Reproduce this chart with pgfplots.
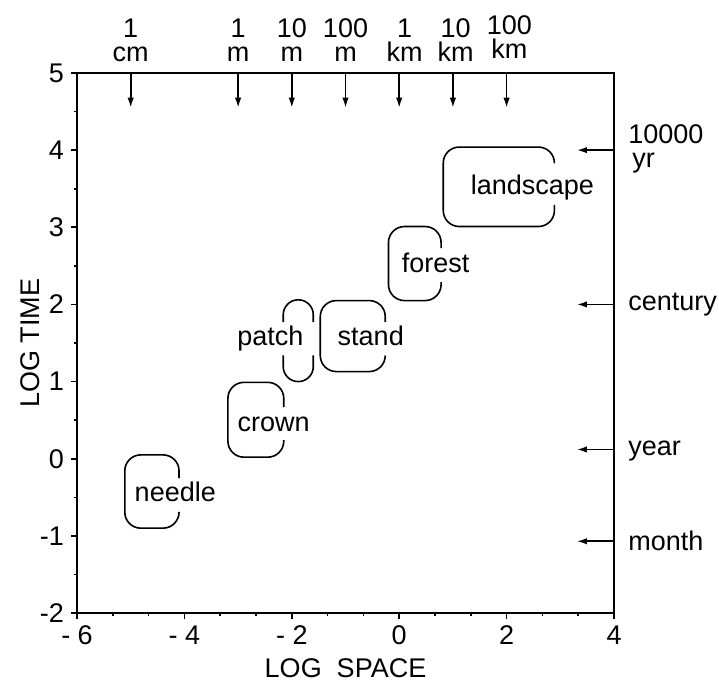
\documentclass[border=0pt]{standalone}
\usepackage{fontspec}
\setmainfont{Liberation Sans}
\usepackage{pgfplots}
\pgfplotsset{compat=1.18}
\usetikzlibrary{arrows.meta}
\tikzset{
  box/.style={black, line width=0.8pt, rounded corners=8pt, mark=none},
  arr/.style={black, line width=0.8pt, mark=none, -{Latex[length=5pt,width=3.2pt]}},
  toplab/.style={anchor=south, inner sep=0pt, yshift=5.6pt, align=center, font=\fontsize{13.5}{12}\selectfont},
  rightlab/.style={anchor=west, inner sep=0pt, xshift=7pt, font=\fontsize{13.5}{15}\selectfont},
}
\begin{document}
\begin{tikzpicture}
\begin{axis}[
  scale only axis, width=268.5pt, height=270pt,
  xmin=-6, xmax=4, ymin=-2, ymax=5,
  xtick={-6,-4,-2,0,2,4}, xticklabels={- 6,- 4,- 2,0,2,4},
  ytick={-2,-1,0,1,2,3,4,5}, yticklabels={-2,-1,0,1,2,3,4,5},
  minor x tick num=2, minor y tick num=1,
  tick pos=left, tick align=outside,
  major tick length=3pt, minor tick length=1.5pt,
  every tick/.style={black, line width=0.8pt},
  axis line style={line width=1pt},
  font=\fontsize{13.5}{15}\selectfont,
  xlabel={LOG\ \ SPACE}, ylabel={LOG TIME},
  x label style={at={(axis description cs:0.5,-0.102)},anchor=center},
  y label style={at={(axis description cs:-0.0875,0.5)},anchor=center},
  clip=false,
]
% page frame (no ink): matches the reference margins
\path (axis description cs:-0.1434,-0.1352) rectangle (axis description cs:1.1955,1.1352);
% boxes
\addplot[box] coordinates {(-4.10,-0.69) (-4.10,-0.90) (-5.11,-0.90) (-5.11,0.05) (-4.10,0.05) (-4.10,-0.25)};
\addplot[box] coordinates {(-2.15,0.24) (-2.15,0.02) (-3.19,0.02) (-3.19,0.99) (-2.15,0.99) (-2.15,0.67)};
\addplot[box, rounded corners=7.5pt] coordinates {(-2.16,1.77) (-2.16,2.06) (-1.60,2.06) (-1.60,1.77)};
\addplot[box, rounded corners=7.5pt] coordinates {(-2.16,1.34) (-2.16,1.00) (-1.60,1.00) (-1.60,1.34)};
\addplot[box] coordinates {(-0.26,1.32) (-0.26,1.13) (-1.47,1.13) (-1.47,2.05) (-0.26,2.05) (-0.26,1.77)};
\addplot[box] coordinates {(0.78,2.29) (0.78,2.05) (-0.20,2.05) (-0.20,3.01) (0.78,3.01) (0.78,2.73)};
\addplot[box] coordinates {(2.89,3.29) (2.89,3.01) (0.82,3.01) (0.82,4.04) (2.89,4.04) (2.89,3.83)};
% box texts
\node[anchor=base] at (axis cs:-4.17,-0.56) {needle};
\node[anchor=base] at (axis cs:-2.34,0.357) {crown};
\node[anchor=base] at (axis cs:-2.40,1.47) {patch};
\node[anchor=base] at (axis cs:-0.53,1.47) {stand};
\node[anchor=base] at (axis cs:0.68,2.42) {forest};
\node[anchor=base] at (axis cs:2.48,3.43) {landscape};
% top arrows
\addplot[arr] coordinates {(-5,5) (-5,4.55)};
\addplot[arr] coordinates {(-3,5) (-3,4.55)};
\addplot[arr] coordinates {(-2,5) (-2,4.55)};
\addplot[arr] coordinates {(-1,5) (-1,4.55)};
\addplot[arr] coordinates {(0,5) (0,4.55)};
\addplot[arr] coordinates {(1,5) (1,4.55)};
\addplot[arr] coordinates {(2,5) (2,4.55)};
\node[toplab] at (axis cs:-5,5) {1\\cm};
\node[toplab] at (axis cs:-3,5) {1\\m};
\node[toplab] at (axis cs:-2,5) {10\\m};
\node[toplab] at (axis cs:-1,5) {100\\m};
\node[toplab] at (axis cs:0.1,5) {1\\km};
\node[toplab] at (axis cs:1.05,5) {10\\km};
\node[toplab, yshift=1.5pt] at (axis cs:2.05,5) {100\\km};
% right arrows
\addplot[arr] coordinates {(4,4.0) (3.31,4.0)};
\addplot[arr] coordinates {(4,2.0) (3.31,2.0)};
\addplot[arr] coordinates {(4,0.12) (3.31,0.12)};
\addplot[arr] coordinates {(4,-1.07) (3.31,-1.07)};
\node[rightlab, anchor=base west] at (axis cs:4,4.09) {10000};
\node[rightlab, anchor=base west, xshift=2pt] at (axis cs:4,3.77) {yr};
\node[rightlab] at (axis cs:4,2.0) {century};
\node[rightlab] at (axis cs:4,0.10) {year};
\node[rightlab] at (axis cs:4,-1.07) {month};
\end{axis}
\end{tikzpicture}
\end{document}
